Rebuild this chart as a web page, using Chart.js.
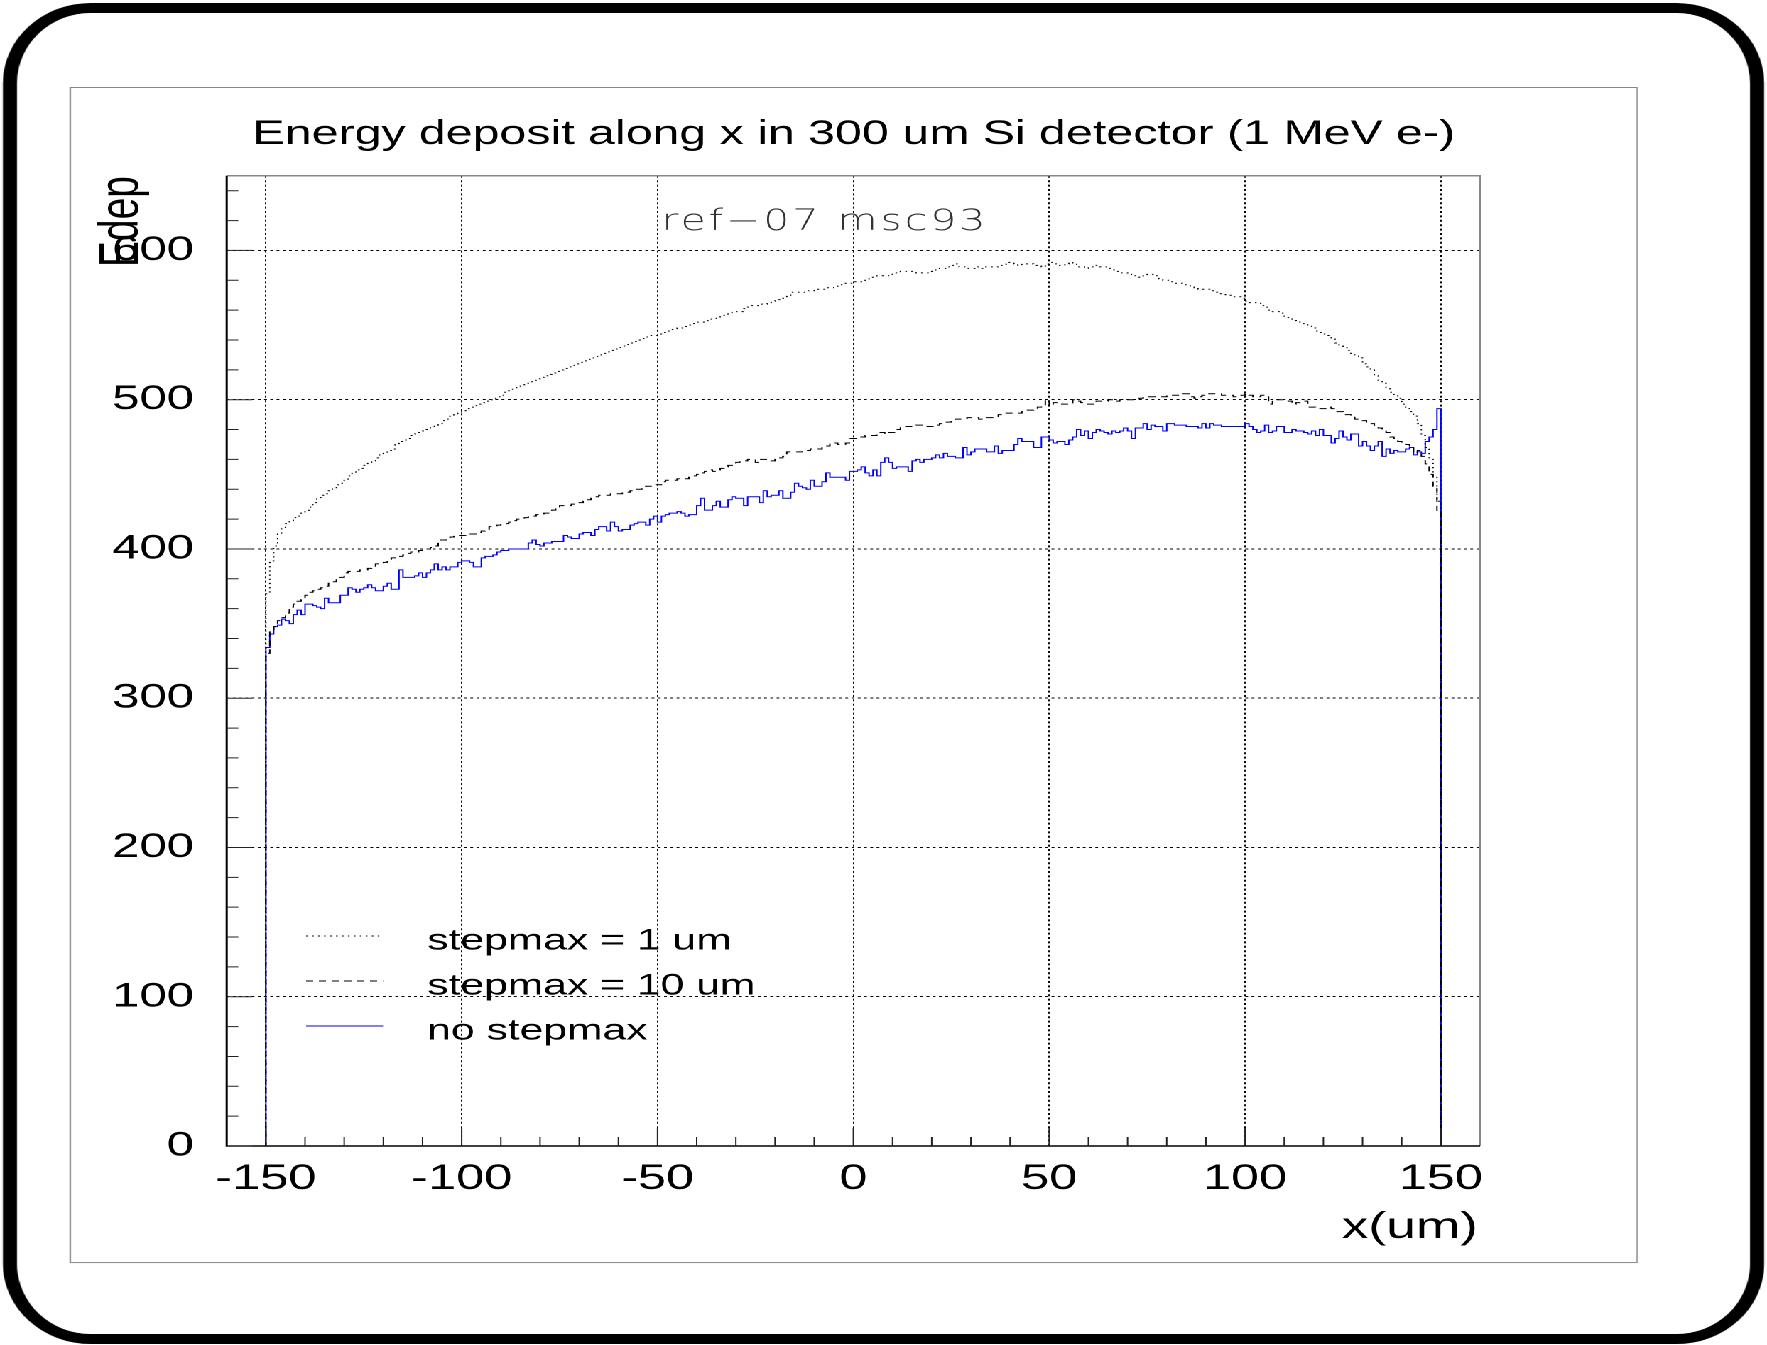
<!DOCTYPE html>
<html>
<head>
<meta charset="utf-8">
<script src="https://cdn.jsdelivr.net/npm/chart.js@4.4.1/dist/chart.umd.min.js"></script>
<style>
  html, body { margin: 0; padding: 0; background: #fff; overflow: hidden; }
  /* the reference picture is stretched sideways, so the whole page is drawn narrow and scaled */
  #page { position: absolute; left: 0; top: 0; width: 1244px; height: 1345px; transform: scaleX(1.42042); transform-origin: 0 0; }
  #outer { position: absolute; left: 2px; top: 3px; width: 1240px; height: 1341px; box-sizing: border-box; border: 10px solid #000; border-radius: 62px / 80px; }
  #pad { position: absolute; left: 49px; top: 87px; width: 1104px; height: 1176px; box-sizing: border-box; border: 1.5px solid #888; }
  #graf { position: absolute; left: 0; top: 0; }
</style>
</head>
<body>
<div id="page">
  <div id="outer"></div>
  <div id="pad"></div>
  <canvas id="graf" width="1244" height="1345"></canvas>
</div>
<script>
const titulo = "Energy deposit along x in 300 um Si detector (1 MeV e-)";
const etiqueta = "ref\u221207 msc93";
const tituloX = "x(um)";
const tituloY = "Edep";
const nombres = ["stepmax = 1 um", "stepmax = 10 um", "no stepmax"];

// histogram bins of 1 um, first bin starts at -150
const primerBin = -150;
const anchoBin = 1;
const xTicks = [-150, -100, -50, 0, 50, 100, 150];
const yTicks = [0, 100, 200, 300, 400, 500, 600];

const step1um = [
    370,392,402,410,414,417,419,421,422,424,
    425,428,431,434,436,437,439,441,443,444,
    446,449,451,453,454,456,458,459,461,463,
    464,466,467,470,472,473,474,476,477,478,
    479,480,482,483,484,486,487,489,490,491,
    492,494,495,496,497,498,499,500,501,502,
    503,505,506,507,509,510,511,512,513,514,
    515,516,517,518,519,520,521,522,523,524,
    525,526,527,528,529,530,531,532,533,534,
    535,536,537,538,539,540,541,542,543,543,
    544,545,546,547,547,548,548,549,550,551,
    552,552,553,554,554,555,556,557,558,559,
    559,559,561,562,563,563,564,564,565,566,
    567,567,568,570,572,572,572,572,573,573,
    574,574,574,575,575,576,577,577,578,578,
    579,579,579,580,582,582,583,583,583,584,
    585,585,586,586,586,586,585,585,585,585,
    586,587,588,588,589,590,591,589,589,588,
    588,589,588,589,589,589,589,590,590,592,
    592,591,590,591,591,591,590,590,589,591,
    592,591,590,590,591,592,591,589,589,588,
    589,589,590,589,589,588,587,586,585,585,
    584,583,583,582,583,584,584,583,581,580,
    580,579,578,578,577,577,576,575,574,574,
    574,573,572,571,571,570,570,569,569,568,
    566,565,565,565,563,562,560,559,559,558,
    556,555,554,553,551,551,550,548,546,545,
    544,543,541,538,536,535,533,531,530,528,
    524,522,520,516,513,511,508,505,503,501,
    497,494,492,489,484,476,468,460,448,432
];

const step10um = [
    330,345,348,352,354,357,361,363,365,366,
    369,371,372,373,374,375,377,378,380,381,
    384,385,385,385,386,386,387,388,390,390,
    391,393,394,394,395,396,397,398,398,399,
    400,400,401,402,406,406,407,408,409,409,
    409,410,410,410,411,412,413,415,415,416,
    417,417,418,419,420,420,421,422,422,423,
    423,424,424,426,427,429,429,429,430,431,
    431,432,433,434,435,436,436,436,437,437,
    437,438,438,439,440,440,441,442,442,443,
    443,445,446,446,446,447,447,447,448,449,
    450,451,452,453,452,452,454,455,456,456,
    458,459,459,460,460,458,460,460,460,459,
    460,461,462,465,465,465,465,466,466,467,
    467,467,468,469,471,471,470,470,471,474,
    474,475,475,476,476,476,478,478,477,478,
    478,480,482,482,482,482,483,483,482,482,
    482,483,484,485,485,486,487,487,487,488,
    488,488,487,487,488,488,488,490,491,491,
    491,491,491,492,493,493,494,495,496,500,
    496,498,498,497,497,497,500,499,498,497,
    497,497,499,499,499,500,500,499,500,500,
    500,500,500,501,502,502,502,502,502,502,
    503,503,503,503,504,504,502,501,502,503,
    504,504,504,504,503,503,503,502,502,503,
    504,503,502,502,503,503,497,500,500,500,
    500,499,497,498,499,499,495,495,494,494,
    494,495,494,492,492,490,490,489,487,487,
    486,485,484,482,481,480,478,475,474,472,
    471,470,469,464,466,462,457,450,442,425
];

const sinStep = [
    334,343,348,349,353,352,350,356,359,356,
    363,363,362,361,360,367,364,364,364,369,
    369,374,373,371,373,374,376,374,372,372,
    375,377,373,373,386,381,381,381,382,384,
    381,384,386,390,386,388,386,388,388,391,
    392,392,391,388,388,394,395,395,396,398,
    399,399,400,400,400,400,400,404,406,403,
    402,404,404,405,405,405,409,408,407,407,
    410,411,411,409,413,415,415,412,418,415,
    412,413,413,416,417,418,418,416,420,422,
    418,422,423,424,424,425,424,422,423,423,
    429,434,426,426,429,432,428,428,433,435,
    434,434,429,435,435,435,431,439,435,436,
    436,439,434,434,438,444,442,441,440,446,
    442,442,445,451,448,448,448,448,446,452,
    452,453,455,451,449,453,449,458,461,458,
    454,455,455,455,452,459,460,458,460,460,
    461,463,461,464,462,462,461,461,468,463,
    465,467,467,467,465,465,469,464,466,466,
    466,470,474,472,472,472,468,468,475,475,
    473,471,472,472,470,473,475,480,476,479,
    474,478,480,479,478,477,479,478,479,481,
    479,474,481,481,484,480,483,482,482,479,
    484,484,483,483,483,482,482,482,481,484,
    481,484,483,483,482,482,482,482,482,482,
    484,482,480,478,479,483,478,479,482,482,
    478,478,480,479,479,478,477,479,476,480,
    476,476,471,474,479,475,473,477,477,469,
    472,469,466,469,472,462,467,464,466,465,
    465,467,468,463,465,464,472,475,480,494
];

const fuente = "'Liberation Sans', Arial, sans-serif";

function puntosHisto(valores){
    let pts = [{x: -160, y: 0}];
    valores.forEach(function(v, i){
        pts.push({x: primerBin + i * anchoBin, y: v});
    });
    pts.push({x: primerBin + valores.length * anchoBin, y: 0});
    pts.push({x: 160, y: 0});
    return pts;
}

// ROOT style frame, ticks, titles and legend
const decoracion = {
    id: 'decoracion',
    afterDraw(chart){
        const ctx = chart.ctx;
        const a = chart.chartArea;
        const sx = chart.scales.x;
        const sy = chart.scales.y;
        ctx.save();

        ctx.lineWidth = 1.5;
        ctx.strokeStyle = '#888';
        ctx.beginPath();
        ctx.moveTo(a.left, a.top);
        ctx.lineTo(a.right, a.top);
        ctx.lineTo(a.right, a.bottom);
        ctx.stroke();

        ctx.strokeStyle = '#000';
        ctx.beginPath();
        ctx.moveTo(a.left, a.top);
        ctx.lineTo(a.left, a.bottom);
        ctx.lineTo(a.right, a.bottom);
        ctx.stroke();

        ctx.lineWidth = 1;
        ctx.strokeStyle = '#222';
        ctx.beginPath();
        for(let v = 0; v <= 640; v += 20){
            const py = sy.getPixelForValue(v);
            const largo = (v % 100 === 0) ? 18 : 8.2;
            ctx.moveTo(a.left, py);
            ctx.lineTo(a.left + largo, py);
        }
        for(let v = -150; v <= 150; v += 10){
            const px = sx.getPixelForValue(v);
            const largo = (v % 50 === 0) ? 18 : 9;
            ctx.moveTo(px, a.bottom);
            ctx.lineTo(px, a.bottom - largo);
        }
        ctx.stroke();

        ctx.fillStyle = '#000';
        ctx.textBaseline = 'alphabetic';
        ctx.font = '34px ' + fuente;
        ctx.textAlign = 'center';
        ctx.fillText(titulo, 601.1, 144);

        ctx.font = '37.5px ' + fuente;
        ctx.textAlign = 'right';
        ctx.fillText(tituloX, 1040.5, 1238);

        ctx.save();
        ctx.translate(97.1, 176);
        ctx.rotate(-Math.PI / 2);
        ctx.font = '39px ' + fuente;
        ctx.textAlign = 'right';
        ctx.fillText(tituloY, 0, 0);
        ctx.restore();

        // thin wide label
        ctx.save();
        ctx.font = "200 29px 'DejaVu Sans', sans-serif";
        ctx.fillStyle = '#333';
        ctx.textAlign = 'left';
        const w0 = ctx.measureText(etiqueta).width;
        ctx.letterSpacing = ((230 - w0) / etiqueta.length).toFixed(2) + 'px';
        ctx.fillText(etiqueta, 465.8, 230);
        ctx.restore();

        // legend
        const filas = [936, 981, 1026];
        chart.data.datasets.forEach(function(ds, i){
            ctx.save();
            ctx.strokeStyle = ds.borderColor;
            ctx.lineWidth = 1;
            ctx.setLineDash(ds.borderDash || []);
            ctx.beginPath();
            ctx.moveTo(215.5, filas[i]);
            ctx.lineTo(269.7, filas[i]);
            ctx.stroke();
            ctx.restore();
            ctx.font = '30px ' + fuente;
            ctx.textAlign = 'left';
            ctx.fillText(ds.label, 300.8, filas[i] + 13.5);
        });

        ctx.restore();
    }
};

const ctx = document.getElementById('graf');

new Chart(ctx, {
    type: 'line',
    plugins: [decoracion],
    data: {
        datasets: [
            {
                label: nombres[0],
                data: puntosHisto(step1um),
                borderColor: '#000',
                borderWidth: 1,
                borderDash: [1.2, 3],
                stepped: true,
                pointRadius: 0,
                fill: false
            },
            {
                label: nombres[1],
                data: puntosHisto(step10um),
                borderColor: '#000',
                borderWidth: 1,
                borderDash: [5, 4],
                stepped: true,
                pointRadius: 0,
                fill: false
            },
            {
                label: nombres[2],
                data: puntosHisto(sinStep),
                borderColor: '#0000ff',
                borderWidth: 1,
                stepped: true,
                pointRadius: 0,
                fill: false
            }
        ]
    },
    options: {
        responsive: false,
        animation: false,
        devicePixelRatio: 2,
        layout: {
            padding: { left: 39.6, top: 175.8, right: 202, bottom: 89 }
        },
        scales: {
            x: {
                type: 'linear',
                min: -160,
                max: 160,
                afterBuildTicks: function(s){ s.ticks = xTicks.map(v => ({value: v})); },
                afterFit: function(s){ s.height = 110; },
                grid: { color: '#000', lineWidth: 1, drawTicks: false },
                border: { display: false, dash: [2, 2.4] },
                ticks: {
                    color: '#000',
                    padding: 12,
                    maxRotation: 0,
                    autoSkip: false,
                    font: { family: fuente, size: 35.5 }
                }
            },
            y: {
                min: 0,
                max: 650,
                afterBuildTicks: function(s){ s.ticks = yTicks.map(v => ({value: v})); },
                afterFit: function(s){ s.width = 120; },
                grid: { color: '#000', lineWidth: 1, drawTicks: false },
                border: { display: false, dash: [2, 2.4] },
                ticks: {
                    color: '#000',
                    padding: 23,
                    font: { family: fuente, size: 34.5 }
                }
            }
        },
        plugins: {
            legend: { display: false },
            tooltip: { enabled: false },
            title: { display: false }
        }
    }
});
</script>
</body>
</html>
